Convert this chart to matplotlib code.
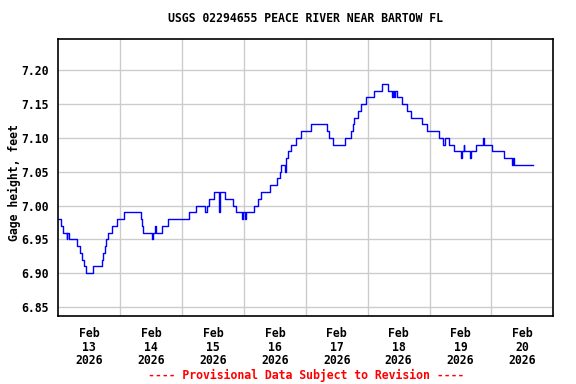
import numpy as np
import matplotlib
matplotlib.use('Agg')
import matplotlib.pyplot as plt

# gage height steps: hours after Feb 13 00:00 and value (feet)
hours = [0.0, 1.0, 1.9, 3.2, 3.5, 4.1, 7.4, 8.4, 9.1, 9.9, 10.7, 13.3, 16.9, 17.4,
         18.0, 18.5, 19.1, 20.8, 22.6, 25.5, 32.0, 32.5, 33.0, 36.2, 36.8, 37.4,
         38.0, 40.1, 42.5, 50.8, 53.3, 57.0, 57.6, 58.6, 60.5, 62.3, 62.6, 64.5,
         67.7, 69.0, 71.1, 71.6, 72.5, 72.9, 75.8, 77.6, 78.7, 82.0, 85.0, 85.8,
         86.5, 88.0, 88.4, 89.0, 90.3, 92.2, 94.0, 98.0, 104.1, 105.1, 106.6,
         111.3, 113.4, 114.2, 114.8, 116.2, 117.6, 119.5, 122.3, 125.4, 128.0,
         129.3, 129.7, 130.3, 130.7, 131.5, 133.2, 135.1, 136.7, 141.2, 143.2,
         147.8, 149.4, 149.9, 151.6, 153.6, 156.3, 156.7, 157.2, 157.5, 159.5,
         159.9, 162.2, 164.8, 165.1, 168.4, 173.0, 176.1, 176.5, 176.8, 184.3]
gage = [6.98, 6.97, 6.96, 6.95, 6.96, 6.95, 6.94, 6.93, 6.92, 6.91, 6.90, 6.91, 6.92, 6.93,
        6.94, 6.95, 6.96, 6.97, 6.98, 6.99, 6.98, 6.97, 6.96, 6.95, 6.96, 6.97,
        6.96, 6.97, 6.98, 6.99, 7.00, 6.99, 7.00, 7.01, 7.02, 6.99, 7.02, 7.01,
        7.00, 6.99, 6.98, 6.99, 6.98, 6.99, 7.00, 7.01, 7.02, 7.03, 7.04, 7.05,
        7.06, 7.05, 7.07, 7.08, 7.09, 7.10, 7.11, 7.12, 7.11, 7.10, 7.09,
        7.10, 7.11, 7.12, 7.13, 7.14, 7.15, 7.16, 7.17, 7.18, 7.17,
        7.16, 7.17, 7.16, 7.17, 7.16, 7.15, 7.14, 7.13, 7.12, 7.11,
        7.10, 7.09, 7.10, 7.09, 7.08, 7.07, 7.08, 7.09, 7.08, 7.07,
        7.08, 7.09, 7.10, 7.09, 7.08, 7.07, 7.06, 7.07, 7.06, 7.06]

day_labels = ['Feb\n13\n2026', 'Feb\n14\n2026', 'Feb\n15\n2026', 'Feb\n16\n2026',
              'Feb\n17\n2026', 'Feb\n18\n2026', 'Feb\n19\n2026', 'Feb\n20\n2026']
yticks = [6.85, 6.90, 6.95, 7.00, 7.05, 7.10, 7.15, 7.20]

plt.rcParams.update({'font.family': 'DejaVu Sans Mono', 'font.weight': 'bold',
                     'font.size': 8.3})

fig = plt.figure(figsize=(5.76, 3.84), dpi=100)
ax = fig.add_axes([58.3/576, 1-316/384, 495/576, (316-39.3)/384])

ax.plot(hours, gage, color='#0000ff', lw=1.0, drawstyle='steps-post')

ax.set_xlim(0, 192)
ax.set_ylim(6.8367, 7.2458)

# grid at midnight, labels at noon
ax.set_xticks(np.arange(24, 192, 24))
ax.set_xticklabels([])
ax.set_xticks(np.arange(12, 192, 24), minor=True)
ax.set_xticklabels(day_labels, minor=True, fontweight='bold', linespacing=1.05)
ax.set_yticks(yticks)
ax.set_yticklabels(['%.2f' % v for v in yticks], fontweight='bold')
ax.tick_params(axis='both', which='both', length=0)
ax.tick_params(axis='x', which='minor', pad=8)
ax.tick_params(axis='y', pad=7)
ax.grid(True, which='major', color='#cccccc', lw=1.0)
ax.set_axisbelow(True)
for s in ax.spines.values():
    s.set_linewidth(1.2)

ax.set_ylabel('Gage height, feet', fontweight='bold')
ax.yaxis.set_label_coords(-0.076, 0.484)
fig.text(305.8/576, 1-19/384, 'USGS 02294655 PEACE RIVER NEAR BARTOW FL',
         ha='center', va='center', fontweight='bold')
fig.text(305.8/576, 1-375/384, '---- Provisional Data Subject to Revision ----',
         ha='center', va='center', color='red', fontweight='bold')

plt.savefig('out.png', dpi=100)
